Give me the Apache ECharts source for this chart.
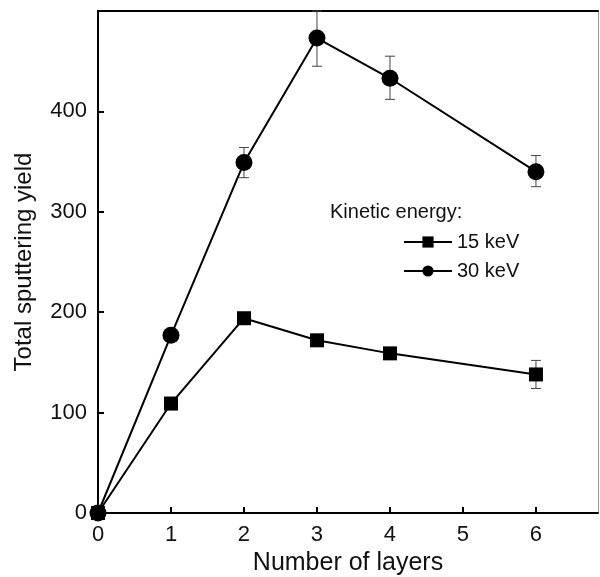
<!DOCTYPE html>
<html>
<head>
<meta charset="utf-8">
<script src="https://cdn.jsdelivr.net/npm/echarts@6/dist/echarts.min.js"></script>
<style>
  html, body { margin: 0; padding: 0; background: #fff; }
  #main { width: 600px; height: 577px; }
</style>
</head>
<body>
<div id="main"></div>
<script>
  var layers = [0, 1, 2, 3, 4, 6];
  var yield15 = [0, 109, 194, 172, 159, 138];
  var yield30 = [0, 177, 349, 473, 433, 340];
  // error bars: [layer, low, high]
  var err15 = [[6, 124, 152]];
  var err30 = [[2, 334, 364], [3, 445, 500], [4, 412, 455], [6, 325, 356]];

  var font = 'Liberation Sans, Arial, sans-serif';
  var dom = document.getElementById('main');
  var myChart = echarts.init(dom, null, { renderer: 'canvas' });

  function pairs(ys) {
    return layers.map(function (x, i) { return [x, ys[i]]; });
  }

  function errRender(params, api) {
    var x = api.value(0);
    var lo = api.coord([x, api.value(1)]);
    var hi = api.coord([x, api.value(2)]);
    var hw = 5;
    var style = { stroke: '#444', lineWidth: 1 };
    return {
      type: 'group',
      children: [
        { type: 'line', shape: { x1: lo[0], y1: lo[1], x2: hi[0], y2: hi[1] }, style: style },
        { type: 'line', shape: { x1: lo[0] - hw, y1: lo[1], x2: lo[0] + hw, y2: lo[1] }, style: style },
        { type: 'line', shape: { x1: hi[0] - hw, y1: hi[1], x2: hi[0] + hw, y2: hi[1] }, style: style }
      ]
    };
  }

  var option = {
    animation: false,
    backgroundColor: '#fff',
    grid: { left: 98, right: 2, top: 11, bottom: 64, outerBoundsMode: 'none' },
    legend: {
      orient: 'vertical',
      left: 398,
      top: 227,
      itemWidth: 48,
      itemHeight: 14,
      itemGap: 9,
      data: ['15 keV', '30 keV'],
      textStyle: { fontFamily: font, fontSize: 20, color: '#111' }
    },
    graphic: [{
      type: 'text',
      left: 330,
      top: 202,
      style: { text: 'Kinetic energy:', font: '20px ' + font, fill: '#111' }
    }],
    xAxis: [{
      type: 'value',
      min: 0,
      max: 6.85,
      interval: 1,
      name: 'Number of layers',
      nameLocation: 'middle',
      nameGap: 33,
      nameTextStyle: { fontFamily: font, fontSize: 25, color: '#111' },
      axisLine: { lineStyle: { color: '#000', width: 2 } },
      axisTick: { inside: true, length: 6, lineStyle: { color: '#000', width: 2 } },
      axisLabel: { fontFamily: font, fontSize: 22, color: '#111', margin: 11, showMaxLabel: false },
      splitLine: { show: false }
    }, {
      type: 'value',
      position: 'top',
      min: 0,
      max: 6.85,
      axisLine: { show: true, onZero: false, lineStyle: { color: '#000', width: 2 } },
      axisTick: { show: false },
      axisLabel: { show: false },
      splitLine: { show: false }
    }],
    yAxis: [{
      type: 'value',
      min: 0,
      max: 500,
      interval: 100,
      name: 'Total sputtering yield',
      nameLocation: 'middle',
      nameGap: 62,
      nameTextStyle: { fontFamily: font, fontSize: 24, color: '#111' },
      axisLine: { show: true, lineStyle: { color: '#000', width: 2 } },
      axisTick: { inside: true, length: 6, lineStyle: { color: '#000', width: 2 } },
      axisLabel: {
        fontFamily: font, fontSize: 22, color: '#111', margin: 11,
        formatter: function (v) { return v >= 500 ? '' : v; }
      },
      splitLine: { show: false }
    }, {
      type: 'value',
      position: 'right',
      min: 0,
      max: 500,
      axisLine: { show: true, onZero: false, lineStyle: { color: '#999', width: 1 } },
      axisTick: { show: false },
      axisLabel: { show: false },
      splitLine: { show: false }
    }],
    series: [{
      name: '15 keV',
      type: 'line',
      data: pairs(yield15),
      symbol: 'rect',
      symbolSize: 14,
      clip: false,
      z: 3,
      itemStyle: { color: '#000' },
      lineStyle: { color: '#000', width: 2 }
    }, {
      name: '30 keV',
      type: 'line',
      data: pairs(yield30),
      symbol: 'circle',
      symbolSize: 17,
      clip: false,
      z: 3,
      itemStyle: { color: '#000' },
      lineStyle: { color: '#000', width: 2 }
    }, {
      type: 'custom',
      renderItem: errRender,
      data: err15,
      clip: false,
      z: 2
    }, {
      type: 'custom',
      renderItem: errRender,
      data: err30,
      clip: false,
      z: 2
    }]
  };

  myChart.setOption(option);
</script>
</body>
</html>
